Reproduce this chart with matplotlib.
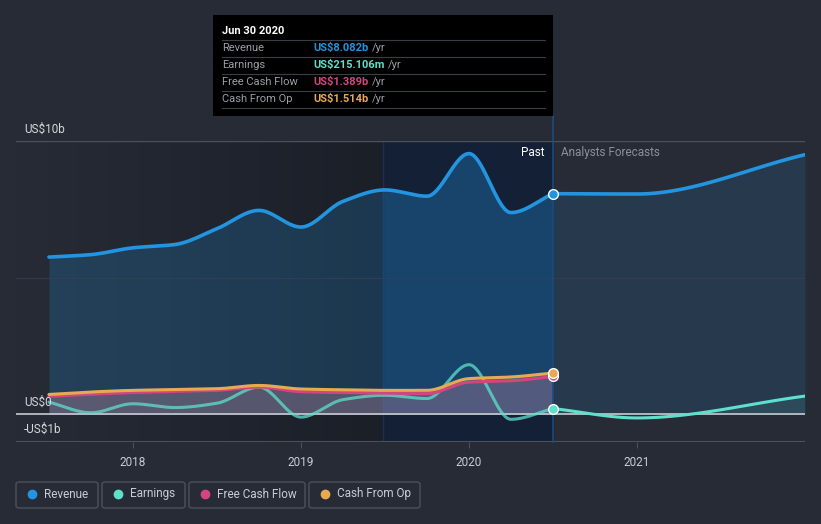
import numpy as np
import matplotlib
matplotlib.use('Agg')
import matplotlib.pyplot as plt
from matplotlib.lines import Line2D
from matplotlib.patches import Rectangle, FancyBboxPatch

W, H = 821, 524

plt.rcParams['font.family'] = ['Roboto', 'DejaVu Sans']

# quarterly history, US$ billions
past_x = [2017.5, 2017.75, 2018.0, 2018.25, 2018.5, 2018.75, 2019.0,
          2019.25, 2019.5, 2019.75, 2020.0, 2020.25, 2020.5]
revenue = [5.76, 5.85, 6.10, 6.22, 6.80, 7.47, 6.86, 7.80, 8.22, 7.99, 9.55, 7.39, 8.082]
earnings = [0.45, 0.06, 0.39, 0.25, 0.41, 1.00, -0.10, 0.54, 0.70, 0.58, 1.82, -0.18, 0.215]
free_cf = [0.66, 0.74, 0.80, 0.84, 0.88, 1.00, 0.83, 0.80, 0.78, 0.76, 1.18, 1.23, 1.389]
cash_op = [0.73, 0.82, 0.88, 0.91, 0.94, 1.06, 0.93, 0.90, 0.88, 0.88, 1.31, 1.37, 1.514]

# analyst forecasts
fc_x = [2020.5, 2021.0, 2022.0]
fc_revenue = [8.082, 8.07, 9.51]
fc_earnings = [0.215, -0.13, 0.67]

year_ticks = [2018, 2019, 2020, 2021]
year_labels = ['2018', '2019', '2020', '2021']

BG = '#262b36'
C_REV = '#2394df'
C_EARN = '#5fe0cc'
C_FCF = '#d4457f'
C_CFO = '#e8aa50'


def smooth(x, y, n=40):
    # monotone cubic (like d3 curveMonotoneX), only for drawing the line shape
    x = np.asarray(x, float)
    y = np.asarray(y, float)
    h = np.diff(x)
    d = np.diff(y) / h
    m = np.zeros_like(y)
    m[0], m[-1] = d[0], d[-1]
    for i in range(1, len(y) - 1):
        if d[i - 1] * d[i] > 0:
            m[i] = (d[i - 1] * d[i] * 2) / (d[i - 1] + d[i])
    xs, ys = [], []
    for i in range(len(h)):
        t = np.linspace(0, 1, n)
        h00 = 2 * t**3 - 3 * t**2 + 1
        h10 = t**3 - 2 * t**2 + t
        h01 = -2 * t**3 + 3 * t**2
        h11 = t**3 - t**2
        xs.append(x[i] + t * h[i])
        ys.append(h00 * y[i] + h10 * h[i] * m[i] + h01 * y[i + 1] + h11 * h[i] * m[i + 1])
    return np.concatenate(xs), np.concatenate(ys)


def px(x, y):
    return x / W, 1 - y / H


fig = plt.figure(figsize=(W / 100, H / 100), dpi=100, facecolor=BG)
ax = fig.add_axes([16 / W, 1 - 441.7 / H, (805 - 16) / W, (441.7 - 141.3) / H])
ax.set_facecolor(BG)
ax.set_xlim(2017.304, 2022.0)
ax.set_ylim(-1, 10)

# darkening gradient over the past, and the highlighted last year
grad = np.linspace(0, 1, 256).reshape(1, -1)
ax.imshow(grad, extent=[2017.304, 2019.49, -1, 10], aspect='auto',
          cmap=matplotlib.colors.LinearSegmentedColormap.from_list('g', [BG, '#1b1f28']),
          zorder=0.5)
ax.axvspan(2019.49, 2020.5, color='#142036', zorder=0.6)
ax.axvline(2019.49, color='#1b3050', lw=1, zorder=0.7)

rx, ry = smooth(past_x, revenue)
ex, ey = smooth(past_x, earnings)
fx, fy = smooth(past_x, free_cf)
cx, cy = smooth(past_x, cash_op)
frx, fry = smooth(fc_x, fc_revenue)
fex, fey = smooth(fc_x, fc_earnings)

ax.fill_between(rx, 0, ry, color=C_REV, alpha=0.22, lw=0, zorder=1)
ax.fill_between(rx, 0, ry, where=rx >= 2019.49, color=C_REV, alpha=0.12, lw=0, zorder=1)
ax.fill_between(frx, 0, fry, color='#2a4b6a', alpha=0.45, lw=0, zorder=1)
ax.fill_between(cx, 0, cy, color='#a0a0a8', alpha=0.30, lw=0, zorder=1.2)
ax.fill_between(fx, 0, fy, color=C_FCF, alpha=0.12, lw=0, zorder=1.3)
ax.fill_between(fex, 0, fey, where=fey > 0, color=C_EARN, alpha=0.10, lw=0, zorder=1.2)

ax.axhline(5, color='#3a4150', lw=0.8, alpha=0.7, zorder=1.5)
ax.axhline(10, color='#4a505c', lw=1, zorder=1.5)
ax.axhline(-1, color='#4a505c', lw=1.5, zorder=1.5)
ax.axhline(0, color='#c8cbd0', lw=1.2, zorder=1.6)

# past / forecast divider, running up to the tooltip
ax.axvline(2020.5, ymin=0, ymax=1 + 25.3 / 300.4, color='#1e4a80', lw=1.2,
           clip_on=False, zorder=1.7)

ax.plot(ex, ey, color=C_EARN, lw=2.2, alpha=0.75, zorder=2, solid_capstyle='round')
ax.plot(fex, fey, color=C_EARN, lw=2.2, zorder=2, solid_capstyle='round')
ax.plot(cx, cy, color=C_CFO, lw=2.2, zorder=2.2, solid_capstyle='round')
ax.plot(fx, fy, color=C_FCF, lw=2.2, zorder=2.1, solid_capstyle='round')
ax.plot(rx, ry, color=C_REV, lw=2.6, zorder=2.3, solid_capstyle='round')
ax.plot(frx, fry, color=C_REV, lw=2.6, zorder=2.3, solid_capstyle='round')

for val, col in [(free_cf[-1], C_FCF), (cash_op[-1], C_CFO),
                 (earnings[-1], C_EARN), (revenue[-1], C_REV)]:
    ax.plot([past_x[-1]], [val], 'o', ms=7, color=col, mec='white', mew=1, zorder=3)

ax.set_xticks(year_ticks)
ax.set_xticklabels(year_labels)
ax.tick_params(axis='x', colors='#4a505c', labelcolor='#c8ccd4', length=4,
               labelsize=8.5, pad=6)
ax.tick_params(axis='y', left=False, labelleft=False)
for s in ax.spines.values():
    s.set_visible(False)

ax.text(2020.45, 9.6, 'Past', color='white', fontsize=8.5, ha='right', va='center')
ax.text(2020.55, 9.6, 'Analysts Forecasts', color='#8a8f99', fontsize=8.5, ha='left', va='center')

# y labels
fig.text(*px(24, 129), 'US$10b', color='#d4d7dc', fontsize=8.5, va='center')
fig.text(*px(24, 402), 'US$0', color='#d4d7dc', fontsize=8.5, va='center')
fig.text(*px(24, 429), '-US$1b', color='#d4d7dc', fontsize=8.5, va='center')

# tooltip
fig.add_artist(Rectangle(px(213, 116), 340 / W, 101 / H, transform=fig.transFigure,
                         facecolor='black', edgecolor='none'))
fig.text(*px(222, 31), 'Jun 30 2020', color='white', fontsize=8, fontweight='bold', va='center')
rows = [('Revenue', 'US$8.082b', C_REV), ('Earnings', 'US$215.106m', C_EARN),
        ('Free Cash Flow', 'US$1.389b', C_FCF), ('Cash From Op', 'US$1.514b', C_CFO)]
for i, (lab, val, col) in enumerate(rows):
    yy = 48 + i * 17
    fig.add_artist(Line2D([222 / W, 545 / W], [1 - (yy - 8) / H] * 2, color='#3a3e46', lw=0.8))
    fig.text(*px(222, yy), lab, color='#9a9ea6', fontsize=8, va='center')
    t = fig.text(*px(313, yy), val, color=col, fontsize=8, fontweight='bold', va='center')
    fig.canvas.draw()
    bb = t.get_window_extent()
    fig.text((bb.x1 + 4) / W, 1 - yy / H, '/yr', color='#9a9ea6', fontsize=8, va='center')
fig.add_artist(Line2D([222 / W, 545 / W], [1 - 108 / H] * 2, color='#3a3e46', lw=0.8))

# legend boxes
legend = [('Revenue', C_REV, 16, 98), ('Earnings', C_EARN, 102, 185),
          ('Free Cash Flow', C_FCF, 189, 305), ('Cash From Op', C_CFO, 309, 420)]
for lab, col, x0, x1 in legend:
    fig.add_artist(FancyBboxPatch(px(x0, 508), (x1 - x0) / W, 26 / H,
                                  boxstyle='round,pad=0,rounding_size=0.004',
                                  transform=fig.transFigure, facecolor='none',
                                  edgecolor='#4b515d', lw=1))
    fig.add_artist(Line2D([(x0 + 16) / W], [1 - 494 / H], marker='o', ms=6,
                          color=col, lw=0))
    fig.text(*px(x0 + 28, 494), lab, color='#c8ccd4', fontsize=8.5, va='center')

fig.savefig('out.png', dpi=100, facecolor=BG)
